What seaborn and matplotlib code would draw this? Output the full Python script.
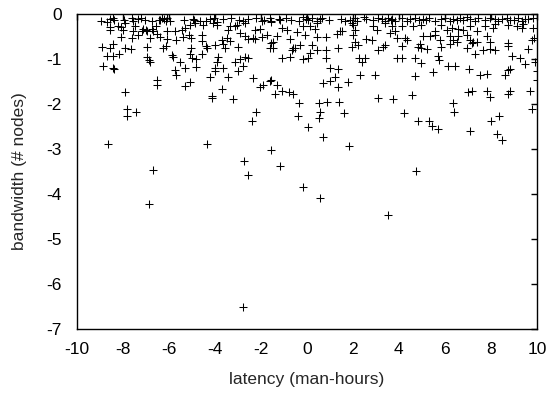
import pandas as pd
import seaborn as sns
import matplotlib.pyplot as plt

# points, grouped roughly by band (left to right)
latency = [
    # left block, top band
    -8.93, -8.67, -8.57, -8.45, -8.38, -7.96, -7.62, -7.55, -7.33, -7.22, -7.04, -6.75, -6.42,
    -6.32, -6.20, -6.10, -5.96, -5.33, -4.97, -4.87, -4.65, -4.39, -4.22, -4.04, -3.93,
    -8.57, -8.20, -8.06, -7.91, -7.48, -7.12, -7.00, -6.71, -6.54, -6.39, -6.14, -5.30, -5.09,
    -4.90, -4.51, -3.93, -4.07,
    -8.57, -7.99, -7.55, -7.19, -6.94, -6.75, -6.51, -6.10, -5.74, -5.45, -5.12, -4.54,
    -8.06, -7.62, -7.33, -6.83, -6.39, -6.10, -5.69, -5.38, -5.06, -4.54,
    -8.90, -8.57, -8.42, -7.91, -7.65, -6.97, -6.25, -6.14, -5.06, -4.36, -4.39, -4.00,
    -8.67, -8.42, -8.17, -6.94, -6.87, -6.83, -5.88, -5.81, -5.09, -5.01, -4.80, -4.58, -3.85, -3.93,
    -8.88, -8.45, -8.38, -5.74, -5.52, -5.30, -4.80, -4.00,
    -4.22, -4.00, -6.51, -6.51, -5.67, -5.09, -5.30, -7.91,
    # sparse lower points
    -7.81, -7.42, -7.81, -8.64, -6.71, -6.88, -4.14, -4.14, -3.20, -4.36, -2.23, -2.40, -2.75,
    -2.58, -1.55, -1.17, -0.36, -0.39, 0.04, -0.19,
    0.58, 3.54, 4.75, 0.51, 0.86, 1.38, 0.58, 1.60, 0.52, 0.71, 1.81, 3.07, 3.75, 4.22, 4.84,
    5.32, 5.42, 5.68, 6.35, 6.38, 7.07, 7.97, 7.99, 8.36, 8.26, 8.49, 9.80,
    -2.78,
    # middle block
    -3.64, -3.28, -2.94, -2.80, -2.55, -2.22, -1.97, -1.87, -1.61, -1.54, -1.20, -1.15, -0.91,
    -0.70, -0.33, -0.16, -0.04, 0.06, 0.20, 0.42, 0.56, 0.64, 0.97, 1.46, 1.65, 1.87, 2.09,
    2.16, 2.48, 2.59,
    -3.35, -3.13, -3.42, -3.06, -2.70, -2.26, -2.04, -1.54, -1.10, -0.88, -0.16, 0.13, 0.35,
    0.42, 1.43, 1.94, 2.01, 2.09,
    -3.71, -3.49, -3.35, -2.91, -2.70, -2.55, -2.33, -2.26, -1.97, -1.75, -1.46, -1.32, -0.74,
    -0.45, -0.09, 0.42, 0.85, 1.29, 1.51, 2.01, 2.09, 2.59,
    -3.57, -3.64, -2.99, -1.61, -1.46, -1.54, -0.67, -0.60, -0.52, -0.31, 0.20, 0.42, 0.85,
    1.36, 1.94, 2.23,
    -3.13, -2.91, -2.70, -2.55, -1.10, -0.74, -0.16, 0.06, 0.13, 0.85, 2.28, 2.38, 2.52,
    -3.64, -2.77, -2.99, -3.42, 1.00, 1.36, 1.22, 2.30,
    -2.33, -2.04, -1.90, -1.61, -1.54, -1.32, -1.39, -1.10, -0.77, -0.62, 0.71, 1.00, 1.36,
    1.80, -3.71,
    # right block
    2.88, 3.10, 3.25, 3.39, 3.54, 3.64, 3.72, 3.83, 4.12, 4.33, 4.48, 4.70, 4.88, 5.06, 5.17,
    5.32, 5.56, 5.85, 6.00, 6.22, 6.36, 6.51, 6.65, 6.80, 6.94, 7.09, 7.30, 7.45, 7.74, 7.96,
    8.17, 8.32, 8.46, 8.68, 8.83, 9.00, 9.19, 9.33, 9.48, 9.62, 9.84,
    2.88, 3.03, 3.39, 3.68, 3.83, 4.12, 4.59, 4.98, 5.56, 5.81, 6.07, 6.29, 6.58, 6.80, 7.09,
    7.38, 7.74, 8.07, 8.17, 8.75, 9.12, 9.33, 9.41, 9.84,
    2.81, 3.61, 3.90, 4.26, 4.33, 5.06, 5.35, 5.56, 5.78, 6.22, 6.36, 6.58, 6.94, 7.09, 7.23,
    7.38, 7.81, 7.96, 8.75, 9.77, 9.88,
    3.10, 3.32, 3.39, 4.12, 4.91, 4.84, 4.98, 5.20, 5.85, 6.22, 6.51, 6.94, 7.16, 7.67, 7.96,
    8.17, 8.75, 9.62,
    3.90, 4.12, 4.70, 4.98, 5.71, 5.75, 6.14, 6.43, 7.30, 8.90, 9.26, 9.48, 9.91,
    2.96, 4.70, 5.49, 7.06, 7.52, 7.81, 8.61, 8.75, 8.83, 9.99, 9.99,
    4.55, 7.01, 7.16, 7.81, 8.75, 8.83, 9.70,
]

bandwidth = [
    -0.15, -0.18, -0.12, -0.10, -0.14, -0.13, -0.09, -0.15, -0.11, -0.10, -0.14, -0.17, -0.13,
    -0.09, -0.12, -0.10, -0.16, -0.14, -0.11, -0.20, -0.15, -0.17, -0.12, -0.10, -0.18,
    -0.30, -0.28, -0.30, -0.21, -0.26, -0.33, -0.36, -0.38, -0.28, -0.13, -0.17, -0.32, -0.25,
    -0.13, -0.25, -0.25, -0.21,
    -0.36, -0.36, -0.39, -0.39, -0.38, -0.33, -0.45, -0.39, -0.39, -0.36, -0.47, -0.48,
    -0.52, -0.54, -0.47, -0.54, -0.52, -0.56, -0.58, -0.52, -0.54, -0.60,
    -0.73, -0.76, -0.68, -0.76, -0.79, -0.73, -0.76, -0.71, -0.76, -0.76, -0.71, -0.69,
    -0.93, -0.93, -0.90, -0.95, -1.02, -1.06, -0.91, -0.95, -0.90, -0.99, -1.00, -0.90, -0.95, -1.06,
    -1.16, -1.21, -1.22, -1.25, -1.06, -1.21, -1.17, -1.21,
    -1.40, -1.28, -1.47, -1.58, -1.36, -1.51, -1.60, -1.74,
    -2.12, -2.17, -2.28, -2.90, -3.47, -4.22, -1.82, -1.87, -1.89, -2.88, -2.18, -2.38, -3.26,
    -3.59, -3.03, -3.37, -1.97, -2.27, -2.51, -3.85,
    -4.10, -4.47, -3.50, -1.97, -1.95, -1.95, -2.17, -2.20, -2.32, -2.74, -2.93, -1.86, -1.90,
    -2.20, -2.39, -2.39, -2.49, -2.56, -1.97, -2.18, -2.61, -1.84, -2.37, -2.27, -2.67, -2.81,
    -2.11,
    -6.50,
    -0.12, -0.10, -0.14, -0.17, -0.11, -0.09, -0.15, -0.13, -0.10, -0.18, -0.12, -0.14, -0.10,
    -0.13, -0.16, -0.08, -0.11, -0.14, -0.10, -0.15, -0.12, -0.09, -0.14, -0.11, -0.17, -0.13,
    -0.10, -0.15, -0.08, -0.12,
    -0.28, -0.28, -0.36, -0.25, -0.21, -0.36, -0.33, -0.17, -0.32, -0.36, -0.28, -0.28, -0.33,
    -0.21, -0.39, -0.21, -0.25, -0.36,
    -0.58, -0.54, -0.60, -0.43, -0.50, -0.56, -0.54, -0.56, -0.52, -0.47, -0.62, -0.50, -0.56,
    -0.41, -0.48, -0.52, -0.52, -0.45, -0.39, -0.47, -0.62, -0.56,
    -0.75, -0.68, -0.73, -0.76, -0.76, -0.65, -0.80, -0.76, -0.75, -0.69, -0.69, -0.80, -0.80,
    -0.76, -0.74, -0.69,
    -1.06, -1.01, -0.95, -0.97, -0.99, -0.95, -1.01, -0.99, -0.88, -0.99, -0.99, -1.08, -0.99,
    -1.21, -1.15, -1.28, -1.40, -1.21, -1.22, -1.40, -1.36,
    -1.43, -1.62, -1.58, -1.49, -1.47, -1.58, -1.77, -1.71, -1.73, -1.79, -1.54, -1.49, -1.62,
    -1.52, -1.67,
    -0.14, -0.10, -0.12, -0.16, -0.09, -0.13, -0.11, -0.15, -0.10, -0.17, -0.12, -0.09, -0.14,
    -0.11, -0.13, -0.10, -0.15, -0.12, -0.09, -0.16, -0.11, -0.13, -0.10, -0.14, -0.08, -0.12,
    -0.15, -0.10, -0.13, -0.09, -0.11, -0.16, -0.12, -0.10, -0.14, -0.13, -0.09, -0.15, -0.11,
    -0.12, -0.10,
    -0.28, -0.36, -0.21, -0.26, -0.38, -0.28, -0.28, -0.25, -0.39, -0.25, -0.36, -0.32, -0.33,
    -0.36, -0.28, -0.38, -0.28, -0.32, -0.23, -0.25, -0.28, -0.32, -0.23, -0.32,
    -0.58, -0.43, -0.54, -0.54, -0.58, -0.50, -0.50, -0.47, -0.58, -0.50, -0.58, -0.50, -0.47,
    -0.58, -0.62, -0.62, -0.50, -0.62, -0.65, -0.58, -0.54,
    -0.80, -0.73, -0.69, -0.71, -0.68, -0.73, -0.76, -0.78, -0.73, -0.68, -0.62, -0.75, -0.65,
    -0.80, -0.78, -0.80, -0.71, -0.78,
    -0.97, -0.97, -0.97, -1.10, -0.93, -1.02, -1.16, -1.16, -0.89, -0.93, -0.99, -1.11, -1.06,
    -1.36, -1.37, -1.29, -1.22, -1.36, -1.34, -1.36, -1.25, -1.22, -1.28, -1.47,
    -1.80, -1.74, -1.71, -1.71, -1.79, -1.71, -1.71,
]

x_ticks = list(range(-10, 11, 2))
y_ticks = list(range(-7, 1))

df = pd.DataFrame({"latency": latency, "bandwidth": bandwidth})

sns.set_style("white")
plt.rcParams["font.family"] = ["Liberation Sans", "DejaVu Sans"]
plt.rcParams["axes.unicode_minus"] = False  # plain hyphens like the original

fig = plt.figure(figsize=(5.53, 3.95), dpi=100)
ax = fig.add_axes([0.139, 0.167, 0.832, 0.798])

sns.scatterplot(data=df, x="latency", y="bandwidth", marker="+", color="black",
                s=28, linewidth=0.75, ax=ax, legend=False)

ax.set_xlim(-10, 10)
ax.set_ylim(-7, 0)
ax.set_xticks(x_ticks)
ax.set_yticks(y_ticks)
ax.tick_params(axis="both", direction="in", length=4, width=1, top=True, right=True,
               labelsize=12.5, colors="black")
ax.tick_params(axis="x", pad=9)
ax.tick_params(axis="y", pad=11)
for s in ax.spines.values():
    s.set_visible(True)
    s.set_color("black")
    s.set_linewidth(1)

ax.set_xlabel("latency (man-hours)", fontsize=12.5, labelpad=11)
ax.set_ylabel("bandwidth (# nodes)", fontsize=12.5, labelpad=14)

fig.savefig("out.png", dpi=100)
